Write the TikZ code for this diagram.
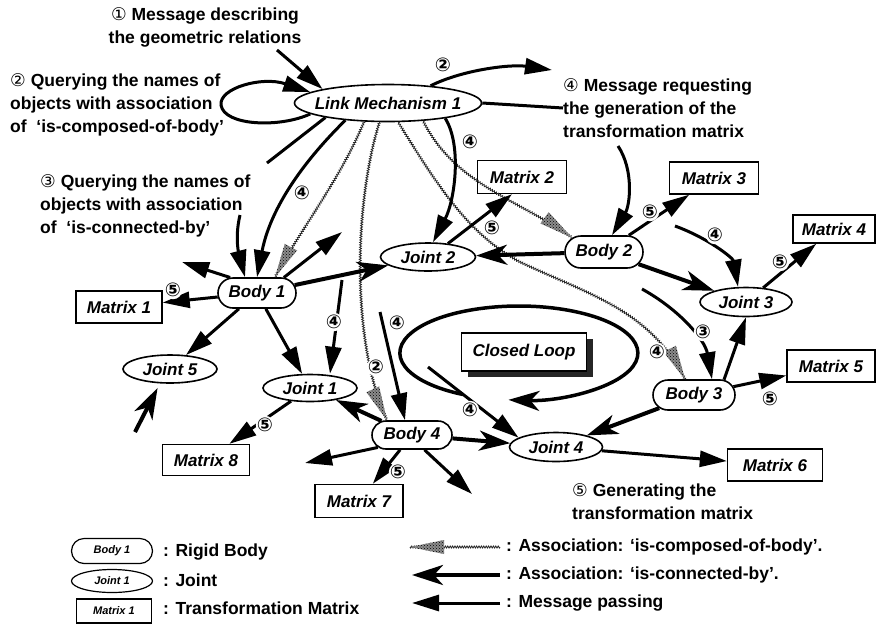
\documentclass[tikz,border=0pt]{standalone}
\usepackage{fontspec}
\setmainfont{Liberation Sans}
\newfontfamily\dvfont{DejaVu Sans}
\usetikzlibrary{arrows.meta,shapes.geometric,shapes.misc,decorations.pathmorphing,decorations.markings,patterns,shadows}

% zero-width text so that ellipses and rounded boxes keep their given size
\newcommand\zw[1]{\makebox[0pt]{#1}}
% circled step numbers
\newcommand\cn[1]{{\dvfont\mdseries\upshape #1}}

\tikzset{
  objtxt/.style={font=\bfseries\itshape\fontsize{17}{20}\selectfont, inner sep=0pt,
                 line width=1.6pt, draw, fill=white},
  body/.style={objtxt, rounded rectangle, minimum width=78pt, minimum height=30pt},
  joint/.style={objtxt, ellipse, minimum width=94pt, minimum height=28pt},
  tmat/.style={objtxt, rectangle, line width=1.4pt, minimum width=88pt, minimum height=32pt},
  msg/.style={line width=3pt, -{Triangle[length=27pt,width=16pt]}},
  msgline/.style={line width=3pt},
  conn/.style={line width=4pt, -{Stealth[length=31pt,width=20pt,inset=9pt]}},
  stipple/.style={fill=black!45, postaction={pattern=crosshatch dots, pattern color=black}},
  assoc/.style={
    preaction={draw, line width=0.8pt, black!85, decorate,
               decoration={zigzag, amplitude=1pt, segment length=2.4pt}},
    postaction={decorate, decoration={markings, mark=at position 1 with
      {\path[stipple] (0,0) -- (-34,7) -- (-34,-7) -- cycle;}}}},
  lbl/.style={font=\dvfont\bfseries\fontsize{19}{19}\selectfont, fill=white, circle, inner sep=-1pt},
  txt/.style={font=\bfseries\fontsize{17.5}{23}\selectfont, inner sep=0pt},
  keytxt/.style={font=\bfseries\itshape\fontsize{11}{12}\selectfont, line width=1.2pt},
}

\begin{document}
\begin{tikzpicture}[x=1pt,y=-1pt]
\fill[white] (0,0) rectangle (878,625);
\useasboundingbox (0,0) rectangle (878,625);

% ---------- objects ----------
\node[joint, minimum width=187pt, minimum height=37pt] (LM) at (388,103) {\zw{Link Mechanism 1}};
\node[body] (B1) at (257,293) {\zw{Body 1}};
\node[body, minimum height=32pt] (B2) at (604,252) {\zw{Body 2}};
\node[body, minimum width=82pt] (B3) at (694,395) {\zw{Body 3}};
\node[body, minimum width=80pt, minimum height=28pt] (B4) at (412,435) {\zw{Body 4}};
\node[joint, minimum height=27pt] (J1) at (310,388) {\zw{Joint 1}};
\node[joint, minimum width=95pt] (J2) at (428,257) {\zw{Joint 2}};
\node[joint, minimum width=92pt, minimum height=29pt] (J3) at (746,302) {\zw{Joint 3}};
\node[joint, minimum width=93pt, minimum height=29pt] (J4) at (556,447) {\zw{Joint 4}};
\node[joint] (J5) at (170,369) {\zw{Joint 5}};
\node[tmat, minimum width=86pt] (M1) at (119,307) {Matrix 1};
\node[tmat, minimum width=89pt, minimum height=33pt] (M2) at (522,177) {Matrix 2};
\node[tmat, minimum width=89pt] (M3) at (714,178) {Matrix 3};
\node[tmat, minimum width=82pt, minimum height=28pt] (M4) at (834,229) {Matrix 4};
\node[tmat] (M5) at (831,366) {Matrix 5};
\node[tmat, minimum width=95pt] (M6) at (775,465) {Matrix 6};
\node[tmat, minimum height=33pt] (M7) at (359,501) {Matrix 7};
\node[tmat, minimum width=87pt, minimum height=31pt] (M8) at (206,460) {Matrix 8};
\node[tmat, minimum width=125pt, minimum height=38pt,
      drop shadow={shadow xshift=6pt, shadow yshift=-6pt, fill=black!85, opacity=1}]
      (CL) at (524,352) {Closed Loop};

% ---------- explanatory texts ----------
\node[txt, align=center] (T1) at (205,27) {\cn{①}\ Message describing\\the geometric relations};
\node[txt, align=left, anchor=west] (T2) at (10,105) {\cn{②} Querying the names of\\objects with association\\of\ \ ‘is-composed-of-body’};
\node[txt, align=left, anchor=west] (T3) at (40,206) {\cn{③} Querying the names of\\objects with association\\of\ \ ‘is-connected-by’};
\node[txt, align=left, anchor=west] (T4) at (563,108) {\cn{④} Message requesting\\the generation of the\\transformation matrix};
\node[txt, align=left, anchor=west] (T5) at (572,502) {\cn{⑤} Generating the\\transformation matrix};

% ---------- free ends of connectors ----------
\coordinate (p1) at (277,50);
\coordinate (p3) at (552,70);
\coordinate (p5) at (618,146);
\coordinate (p6) at (267,163);
\coordinate (p7) at (240,215);
\coordinate (p12) at (342,280);
\coordinate (p13) at (380,312);
\coordinate (p14) at (428,367);
\coordinate (p23) at (135,432);
\coordinate (p27) at (675,226);
\coordinate (p29) at (642,289);
\coordinate (q1) at (342,232);
\coordinate (q2) at (182,262);
\coordinate (q3) at (305,463);
\coordinate (q4) at (472,494);
\coordinate (lp) at (463,394.5);

% ---------- association 'is-composed-of-body' ----------
\path[assoc] (LM.218) .. controls (340,180) and (300,230) .. ([xshift=18pt]B1.north);
\path[assoc] (LM.246) .. controls (355,200) and (350,340) .. ([xshift=-25pt]B4.north);
\path[assoc] (LM.-27) .. controls (455,185) and (520,200) .. (B2.156);
\path[assoc] (LM.-62) .. controls (440,190) and (470,235) .. (520,262)
             .. controls (590,295) and (650,310) .. ([xshift=-9pt]B3.north);

% ---------- messages around the link mechanism ----------
\draw[msg] (p1) -- (LM.168);
\draw[msg] (LM.188) .. controls (280,128) and (224,126) .. (221,105)
           .. controls (219,88) and (262,76) .. (LM.172);
\draw[msg] (LM.22) .. controls (462,70) and (510,64) .. (p3);
\draw[msgline] (LM.east) -- (T4.west);
\draw[msg] (p5) .. controls (634,170) and (630,205) .. ([xshift=8pt]B2.north);
\draw[msgline] (LM.193) -- (p6);
\draw[msg] (p7) .. controls (234,240) and (240,258) .. ([xshift=-12pt]B1.north);
\draw[msg] (LM.202) .. controls (315,150) and (272,200) .. (B1.north);
\draw[msg] (LM.-15) .. controls (462,145) and (455,200) .. ([xshift=5pt]J2.north);

% ---------- body 1 ----------
\draw[msg] (B1.30) -- (q1);
\draw[msg] (B1.150) -- (q2);
\draw[msg] (B1) -- (M1);
\draw[msg] (B1) -- (J5);
\draw[msg] (B1) -- (J1);
\draw[conn] (B1) -- (J2);
\draw[msg] (J2.34) -- ([xshift=-10pt]M2.south);
\draw[msg] (p12) -- ([xshift=20pt]J1.north);
\draw[conn, shorten >=5pt] (p23) -- (J5.235);
\draw[msg] (J1) -- (M8);

% ---------- body 4 ----------
\draw[msg] (p13) -- ([xshift=-7pt]B4.north);
\draw[conn] (B4) -- (J1);
\draw[msg] (B4.200) -- (q3);
\draw[msg] (B4) -- (M7);
\draw[msg] (B4.-50) -- (q4);
\draw[conn] (B4) -- (J4);
\draw[msg] (p14) -- (J4.166);
\draw[msg] (J4) -- (M6);

% ---------- bodies 2 and 3 ----------
\draw[conn] (B2) -- (J2);
\draw[msg] (B2) -- (M3);
\draw[conn] (B2) -- (J3);
\draw[msg] (p27) .. controls (708,238) and (733,258) .. ([xshift=-8pt]J3.north);
\draw[msg] (J3) -- (M4);
\draw[msg] (p29) .. controls (680,310) and (705,340) .. ([xshift=18pt]B3.north);
\draw[msg] (B3.27) -- (J3.south);
\draw[msg] (B3) -- (M5);
\draw[conn] (B3) -- (J4);

% ---------- closed loop ----------
\draw[conn, line width=3.5pt] (lp) arc[start angle=118, end angle=455, x radius=119, y radius=47];

% ---------- step numbers on connectors ----------
\node[lbl] (n1) at (443,65) {②};
\node[lbl] (n2) at (302,193) {④};
\node[lbl] (n3) at (470,142) {④};
\node[lbl] (n4) at (492,228) {⑤};
\node[lbl] (n5) at (173,290) {⑤};
\node[lbl] (n6) at (334,322) {④};
\node[lbl] (n7) at (397,323) {④};
\node[lbl] (n8) at (376,367) {②};
\node[lbl] (n9) at (470,410) {④};
\node[lbl] (n10) at (265,425) {⑤};
\node[lbl] (n11) at (398,472) {⑤};
\node[lbl] (n12) at (650,212) {⑤};
\node[lbl] (n13) at (715,235) {④};
\node[lbl] (n14) at (780,262) {⑤};
\node[lbl] (n15) at (703,332) {③};
\node[lbl] (n16) at (657,352) {④};
\node[lbl] (n17) at (770,399) {⑤};

% ---------- key ----------
\node[body, keytxt, minimum width=81pt, minimum height=25pt] (kB) at (112,551) {\zw{Body 1}};
\node[joint, keytxt, minimum width=81pt, minimum height=23pt] (kJ) at (112,581) {\zw{Joint 1}};
\node[tmat, keytxt, minimum width=75pt, minimum height=24pt] (kM) at (114,611) {Matrix 1};
\node[txt, anchor=west] (kBt) at (163,552) {: Rigid Body};
\node[txt, anchor=west] (kJt) at (163,580) {: Joint};
\node[txt, anchor=west] (kMt) at (163,608) {: Transformation Matrix};

\coordinate (ka1) at (500,547);
\coordinate (ka2) at (410,547);
\coordinate (kc1) at (500,575);
\coordinate (kc2) at (412,575);
\coordinate (km1) at (500,603);
\coordinate (km2) at (412,603);
\path[assoc] (ka1) -- (ka2);
\draw[conn] (kc1) -- (kc2);
\draw[msg] (km1) -- (km2);
\node[txt, anchor=west] (kat) at (506,547) {: Association: ‘is-composed-of-body’.};
\node[txt, anchor=west] (kct) at (506,575) {: Association: ‘is-connected-by’.};
\node[txt, anchor=west] (kmt) at (506,603) {: Message passing};
\end{tikzpicture}
\end{document}
